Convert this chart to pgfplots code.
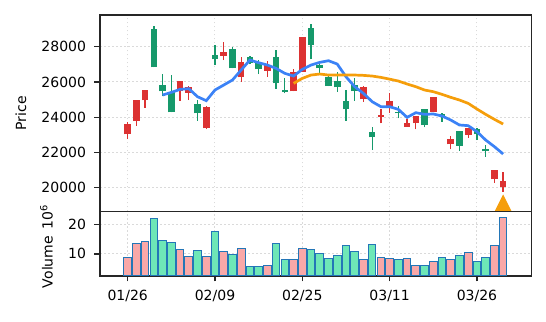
\documentclass[border=0pt]{standalone}
\usepackage{pgfplots}
\usepackage{pgfplotstable}
\pgfplotsset{compat=1.18}
\usepackage{fontspec}
\setmainfont{DejaVu Sans}
\definecolor{cup}{HTML}{16996B}
\definecolor{cdn}{HTML}{DC3232}
\definecolor{vup}{HTML}{6EE7B7}
\definecolor{vdn}{HTML}{F9A8A8}
\definecolor{vedge}{HTML}{2376B7}
\definecolor{mablue}{HTML}{3B82F6}
\definecolor{maorange}{HTML}{F59E0B}
\definecolor{gridc}{HTML}{DADADA}
\definecolor{spine}{HTML}{262626}

\pgfplotstableread{
i o h l c
3 26828 29172 26828 28983
4 25467 26450 25202 25807
5 24276 26393 24276 25448
8 24219 24975 23803 24730
10 27282 28095 26960 27509
12 26771 27962 26771 27887
14 27060 27480 27000 27430
15 26715 27244 26450 27149
17 25920 27811 25618 27433
18 25429 26204 25353 25543
21 28095 29285 27282 29040
22 26771 27149 26488 26960
23 25770 26374 25770 26299
24 25694 26563 25448 26053
25 24446 25543 23803 24919
26 25467 26204 24938 25807
28 22858 23463 22140 23142
31 24220 24635 23936 24300
34 23558 24484 23425 24484
36 24000 24220 23750 24200
38 22367 23236 22083 23236
40 23030 23369 22700 23312
41 22064 22423 21762 22178
}\upcandles

\pgfplotstableread{
i o h l c
0 23595 23728 22783 23028
1 24957 24990 23520 23784
2 25524 25540 24541 24957
6 26034 26034 24938 25505
7 25732 25770 24975 25391
9 24559 24635 23330 23369
11 27698 28265 27244 27490
13 27112 27414 26015 26261
16 26960 27187 26299 26639
19 26582 26715 25467 25467
20 28567 28567 26582 26582
27 25694 25770 24881 25013
29 24106 24484 23652 24030
30 24900 25350 24250 24500
32 23652 23879 23463 23463
33 24068 24068 23312 23652
35 25127 25127 24314 24314
37 22745 22934 22178 22461
39 23369 23369 22839 22991
42 20987 20987 20287 20476
43 20363 20873 19777 20060
}\dncandles

\pgfplotstableread{
i m
4 25259
5 25410
6 25580
7 25618
8 25164
9 24938
10 25543
11 25826
12 26110
13 26680
14 27244
15 27093
16 26960
17 26771
18 26488
19 26336
20 26715
21 26960
22 27112
23 27206
24 27017
25 26299
26 25732
27 25354
28 24881
29 24597
30 24597
31 24446
32 23992
33 24257
34 24163
35 24182
36 24068
37 23841
38 23558
39 23520
40 23180
41 22707
42 22329
43 21913
}\mafive

\pgfplotstableread{
i m
19 25920
20 26204
21 26393
22 26450
23 26393
24 26393
25 26393
26 26393
27 26374
28 26336
29 26261
30 26160
31 26053
32 25883
33 25732
34 25543
35 25448
36 25297
37 25127
38 24975
39 24786
40 24465
41 24163
42 23879
43 23614
}\matwenty

\pgfplotstableread{
i v
3 22.0
4 14.65
5 13.8
8 11.2
10 17.8
12 9.77
14 5.58
15 5.58
17 13.6
18 8.0
21 11.5
22 10.1
23 8.37
24 9.42
25 12.9
26 10.8
28 13.3
31 8.0
34 6.16
36 8.72
38 9.42
40 7.3
41 8.72
}\volup

\pgfplotstableread{
i v
0 8.72
1 13.6
2 14.3
6 11.5
7 9.07
9 9.07
11 10.8
13 11.9
16 5.93
19 8.0
20 11.9
27 8.0
29 8.72
30 8.37
32 8.37
33 6.16
35 7.3
37 8.0
39 10.5
42 12.9
43 22.3
}\voldn

\pgfdeclareplotmark{bigtri}{%
  \pgfpathmoveto{\pgfqpoint{0pt}{\pgfplotmarksize}}%
  \pgfpathlineto{\pgfqpoint{-\pgfplotmarksize}{-\pgfplotmarksize}}%
  \pgfpathlineto{\pgfqpoint{\pgfplotmarksize}{-\pgfplotmarksize}}%
  \pgfpathclose\pgfusepathqfill}

\pgfplotsset{
  panel/.style={
    scale only axis, width=431.5bp,
    xmin=-3.17, xmax=46.25,
    axis line style={spine, line width=1.25bp},
    tick style={spine, line width=1.25bp},
    major tick length=5.5bp,
    tick align=outside,
    xtick={0,10,20,30,40},
    ytick pos=left, xtick pos=bottom,
    grid=major,
    major grid style={gridc, line width=1bp, dash pattern=on 1.6bp off 2.4bp},
    tick label style={font=\fontsize{14bp}{16bp}\selectfont},
    yticklabel style={xshift=-5bp},
    xticklabel style={yshift=-5bp},
    label style={font=\fontsize{14bp}{16bp}\selectfont},
    /pgf/number format/assume math mode=true,
    /pgf/number format/1000 sep={},
    scaled y ticks=false,
  },
  wick/.style={draw=none, no markers, forget plot,
    error bars/.cd, y dir=plus, y explicit, error mark=none,
    error bar style={draw=#1, line width=1.3bp}},
  body/.style={draw=none, no markers, forget plot,
    error bars/.cd, y dir=plus, y explicit, error mark=none,
    error bar style={draw=#1, line width=6.6bp, line cap=butt}},
}

\begin{document}
\begin{tikzpicture}
\useasboundingbox (0,0) rectangle (546bp,322bp);
\begin{axis}[panel,
  at={(100bp,110.5bp)}, anchor=south west,
  height=196.5bp,
  ymin=18650, ymax=29800,
  ytick={20000,22000,24000,26000,28000},
  xticklabels={}, xtick style={draw=none},
  ylabel={Price},
  ylabel style={at={(axis description cs:-0.1831,0.5)}, anchor=center},
]
\addplot[wick=cup] table[x=i, y=l, y error expr=\thisrow{h}-\thisrow{l}] {\upcandles};
\addplot[body=cup] table[x=i, y=o, y error expr=\thisrow{c}-\thisrow{o}] {\upcandles};
\addplot[wick=cdn] table[x=i, y=l, y error expr=\thisrow{h}-\thisrow{l}] {\dncandles};
\addplot[body=cdn] table[x=i, y=c, y error expr=\thisrow{o}-\thisrow{c}] {\dncandles};
\addplot[mablue, line width=2.7bp, no markers] table[x=i, y=m] {\mafive};
\addplot[maorange, line width=2.7bp, no markers] table[x=i, y=m] {\matwenty};
\addplot[only marks, mark=bigtri, mark size=8.6bp, color=maorange] coordinates {(43,19133)};
\end{axis}
\begin{axis}[panel,
  at={(100bp,46bp)}, anchor=south west,
  height=64.5bp,
  ymin=2.43, ymax=24.5,
  ytick={10,20},
  xticklabels={01/26,02/09,02/25,03/11,03/26},
  ylabel={Volume \,10\textsuperscript{6}},
  ylabel style={at={(axis description cs:-0.124,0.46)}, anchor=center},
]
\addplot[ybar, bar width=0.88, bar shift=0pt, fill=vup, draw=vedge, line width=1bp] table[x=i, y=v] {\volup};
\addplot[ybar, bar width=0.88, bar shift=0pt, fill=vdn, draw=vedge, line width=1bp] table[x=i, y=v] {\voldn};
\end{axis}
\end{tikzpicture}
\end{document}
